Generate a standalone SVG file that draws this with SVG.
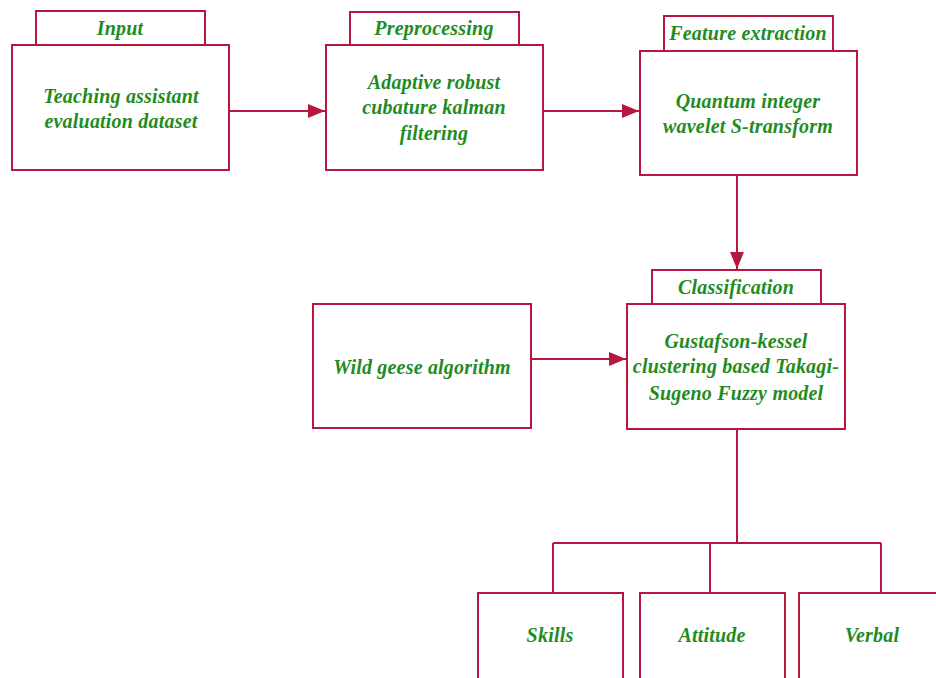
<svg xmlns="http://www.w3.org/2000/svg" width="936" height="678" viewBox="0 0 936 678">
<defs>
<style>
.box{fill:#fff;stroke:#b5173f;stroke-width:2}
.ln{fill:none;stroke:#b5173f;stroke-width:2}
.t{font-family:"Liberation Serif",serif;font-weight:bold;font-style:italic;font-size:20px;letter-spacing:0.2px;fill:#1f8c1f;text-anchor:middle}
</style>
<marker id="ahv" markerWidth="18" markerHeight="14" refX="17" refY="7" orient="auto" markerUnits="userSpaceOnUse">
<path d="M0,0 L17,7 L0,14 Z" fill="#b5173f"/>
</marker>
</defs>
<rect width="936" height="678" fill="#fff"/>
<g id="connectors">
<line class="ln" x1="229" y1="111" x2="325" y2="111" marker-end="url(#ahv)"/>
<line class="ln" x1="543" y1="111" x2="639" y2="111" marker-end="url(#ahv)"/>
<line class="ln" x1="737" y1="175" x2="737" y2="269" marker-end="url(#ahv)"/>
<line class="ln" x1="531" y1="359" x2="626" y2="359" marker-end="url(#ahv)"/>
<path class="ln" d="M737,429 V543 M553,543 H881 M553,543 V593 M710,543 V593 M881,543 V593"/>
</g>
<g id="input">
<rect class="box" x="36" y="11" width="169" height="34"/>
<rect class="box" x="12" y="45" width="217" height="125"/>
<text class="t" x="120" y="35">Input</text>
<text class="t" x="121" y="103">Teaching assistant</text>
<text class="t" x="121" y="128">evaluation dataset</text>
</g>
<g id="preprocessing">
<rect class="box" x="350" y="12" width="169" height="33"/>
<rect class="box" x="326" y="45" width="217" height="125"/>
<text class="t" x="434" y="35">Preprocessing</text>
<text class="t" x="434" y="89">Adaptive robust</text>
<text class="t" x="434" y="114">cubature kalman</text>
<text class="t" x="434" y="140">filtering</text>
</g>
<g id="feature">
<rect class="box" x="664" y="16" width="169" height="35"/>
<rect class="box" x="640" y="51" width="217" height="124"/>
<text class="t" x="748" y="40">Feature extraction</text>
<text class="t" x="748" y="108">Quantum integer</text>
<text class="t" x="748" y="133">wavelet S-transform</text>
</g>
<g id="classification">
<rect class="box" x="652" y="270" width="169" height="34"/>
<rect class="box" x="627" y="304" width="218" height="125"/>
<text class="t" x="736" y="294">Classification</text>
<text class="t" x="736" y="348">Gustafson-kessel</text>
<text class="t" x="736" y="373">clustering based Takagi-</text>
<text class="t" x="736" y="400">Sugeno Fuzzy model</text>
</g>
<g id="wildgeese">
<rect class="box" x="313" y="304" width="218" height="124"/>
<text class="t" x="422" y="374">Wild geese algorithm</text>
</g>
<g id="skills">
<rect class="box" x="478" y="593" width="145" height="95"/>
<text class="t" x="550" y="642">Skills</text>
</g>
<g id="attitude">
<rect class="box" x="640" y="593" width="145" height="95"/>
<text class="t" x="712" y="642">Attitude</text>
</g>
<g id="verbal">
<rect class="box" x="799" y="593" width="145" height="95"/>
<text class="t" x="872" y="642">Verbal</text>
</g>
</svg>
